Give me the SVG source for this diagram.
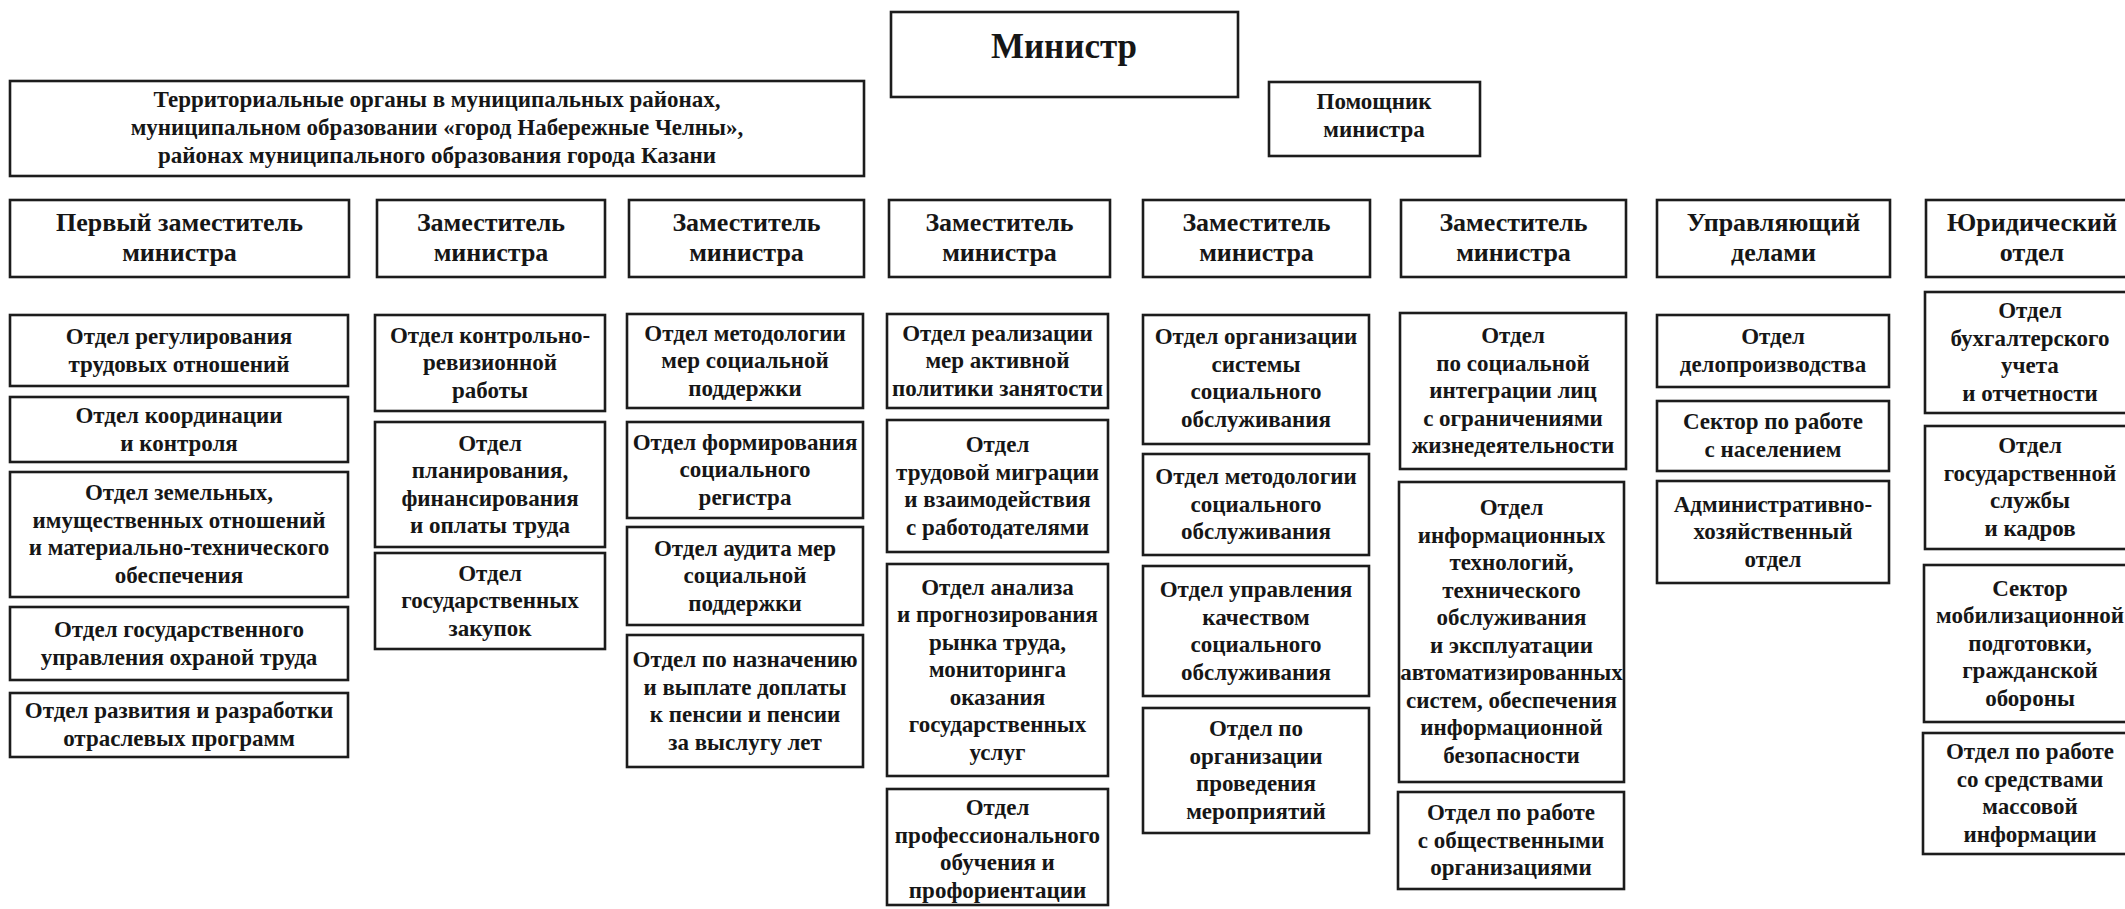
<svg xmlns="http://www.w3.org/2000/svg" width="2125" height="909" viewBox="0 0 2125 909">
<style>
.box{fill:#fff;stroke:#1c1c1c;stroke-width:2.6}
.t{font-family:"Liberation Serif","DejaVu Serif",serif;font-weight:bold;font-size:23px;text-anchor:middle;fill:#161616}
.h{font-size:26px}
.m{font-size:35px}
.r{font-size:23px}
</style>
<rect width="2125" height="909" fill="#fff"/>
<g id="connectors"/>

<g id="minister"><rect class="box" x="891" y="12" width="347" height="85"/><text class="t m" x="1064" y="58">Министр</text></g>
<g id="assistant"><rect class="box" x="1269" y="82" width="211" height="74"/><text class="t" x="1374" y="109"><tspan x="1374">Помощник</tspan><tspan x="1374" dy="28">министра</tspan></text></g>
<g id="territorial"><rect class="box" x="10" y="81" width="854" height="95"/><text class="t r" x="437" y="107"><tspan x="437">Территориальные органы в муниципальных районах,</tspan><tspan x="437" dy="28">муниципальном образовании «город Набережные Челны»,</tspan><tspan x="437" dy="28">районах муниципального образования города Казани</tspan></text></g>

<g id="dep1"><rect class="box" x="10" y="200" width="339" height="77"/><text class="t h" x="179.5" y="231"><tspan x="179.5">Первый заместитель</tspan><tspan x="179.5" dy="30">министра</tspan></text></g>
<g id="dep2"><rect class="box" x="377" y="200" width="228" height="77"/><text class="t h" x="491" y="231"><tspan x="491">Заместитель</tspan><tspan x="491" dy="30">министра</tspan></text></g>
<g id="dep3"><rect class="box" x="629" y="200" width="235" height="77"/><text class="t h" x="746.5" y="231"><tspan x="746.5">Заместитель</tspan><tspan x="746.5" dy="30">министра</tspan></text></g>
<g id="dep4"><rect class="box" x="889" y="200" width="221" height="77"/><text class="t h" x="999.5" y="231"><tspan x="999.5">Заместитель</tspan><tspan x="999.5" dy="30">министра</tspan></text></g>
<g id="dep5"><rect class="box" x="1143" y="200" width="227" height="77"/><text class="t h" x="1256.5" y="231"><tspan x="1256.5">Заместитель</tspan><tspan x="1256.5" dy="30">министра</tspan></text></g>
<g id="dep6"><rect class="box" x="1401" y="200" width="225" height="77"/><text class="t h" x="1513.5" y="231"><tspan x="1513.5">Заместитель</tspan><tspan x="1513.5" dy="30">министра</tspan></text></g>
<g id="manager"><rect class="box" x="1657" y="200" width="233" height="77"/><text class="t h" x="1773.5" y="231"><tspan x="1773.5">Управляющий</tspan><tspan x="1773.5" dy="30">делами</tspan></text></g>
<g id="legal"><rect class="box" x="1926" y="200" width="212" height="77"/><text class="t h" x="2032" y="231"><tspan x="2032">Юридический</tspan><tspan x="2032" dy="30">отдел</tspan></text></g>

<g id="c1-1"><rect class="box" x="10" y="315" width="338" height="71"/><text class="t" x="179" y="344"><tspan x="179">Отдел регулирования</tspan><tspan x="179" dy="27.5">трудовых отношений</tspan></text></g>
<g id="c1-2"><rect class="box" x="10" y="397" width="338" height="65"/><text class="t" x="179" y="423"><tspan x="179">Отдел координации</tspan><tspan x="179" dy="27.5">и контроля</tspan></text></g>
<g id="c1-3"><rect class="box" x="10" y="472" width="338" height="125"/><text class="t" x="179" y="500"><tspan x="179">Отдел земельных,</tspan><tspan x="179" dy="27.5">имущественных отношений</tspan><tspan x="179" dy="27.5">и материально-технического</tspan><tspan x="179" dy="27.5">обеспечения</tspan></text></g>
<g id="c1-4"><rect class="box" x="10" y="607" width="338" height="73"/><text class="t" x="179" y="637"><tspan x="179">Отдел государственного</tspan><tspan x="179" dy="27.5">управления охраной труда</tspan></text></g>
<g id="c1-5"><rect class="box" x="10" y="693" width="338" height="64"/><text class="t" x="179" y="718"><tspan x="179">Отдел развития и разработки</tspan><tspan x="179" dy="27.5">отраслевых программ</tspan></text></g>

<g id="c2-1"><rect class="box" x="375" y="315" width="230" height="96"/><text class="t" x="490" y="342.5"><tspan x="490">Отдел контрольно-</tspan><tspan x="490" dy="27.5">ревизионной</tspan><tspan x="490" dy="27.5">работы</tspan></text></g>
<g id="c2-2"><rect class="box" x="375" y="422" width="230" height="125"/><text class="t" x="490" y="450.5"><tspan x="490">Отдел</tspan><tspan x="490" dy="27.5">планирования,</tspan><tspan x="490" dy="27.5">финансирования</tspan><tspan x="490" dy="27.5">и оплаты труда</tspan></text></g>
<g id="c2-3"><rect class="box" x="375" y="553" width="230" height="96"/><text class="t" x="490" y="580.5"><tspan x="490">Отдел</tspan><tspan x="490" dy="27.5">государственных</tspan><tspan x="490" dy="27.5">закупок</tspan></text></g>

<g id="c3-1"><rect class="box" x="627" y="314" width="236" height="94"/><text class="t" x="745" y="340.5"><tspan x="745">Отдел методологии</tspan><tspan x="745" dy="27.5">мер социальной</tspan><tspan x="745" dy="27.5">поддержки</tspan></text></g>
<g id="c3-2"><rect class="box" x="627" y="422" width="236" height="96"/><text class="t" x="745" y="449.5"><tspan x="745">Отдел формирования</tspan><tspan x="745" dy="27.5">социального</tspan><tspan x="745" dy="27.5">регистра</tspan></text></g>
<g id="c3-3"><rect class="box" x="627" y="527" width="236" height="98"/><text class="t" x="745" y="555.5"><tspan x="745">Отдел аудита мер</tspan><tspan x="745" dy="27.5">социальной</tspan><tspan x="745" dy="27.5">поддержки</tspan></text></g>
<g id="c3-4"><rect class="box" x="627" y="635" width="236" height="132"/><text class="t" x="745" y="667"><tspan x="745">Отдел по назначению</tspan><tspan x="745" dy="27.5">и выплате доплаты</tspan><tspan x="745" dy="27.5">к пенсии и пенсии</tspan><tspan x="745" dy="27.5">за выслугу лет</tspan></text></g>

<g id="c4-1"><rect class="box" x="887" y="314" width="221" height="94"/><text class="t" x="997.5" y="340.5"><tspan x="997.5">Отдел реализации</tspan><tspan x="997.5" dy="27.5">мер активной</tspan><tspan x="997.5" dy="27.5">политики занятости</tspan></text></g>
<g id="c4-2"><rect class="box" x="887" y="420" width="221" height="132"/><text class="t" x="997.5" y="452"><tspan x="997.5">Отдел</tspan><tspan x="997.5" dy="27.5">трудовой миграции</tspan><tspan x="997.5" dy="27.5">и взаимодействия</tspan><tspan x="997.5" dy="27.5">с работодателями</tspan></text></g>
<g id="c4-3"><rect class="box" x="887" y="564" width="221" height="212"/><text class="t" x="997.5" y="594.5"><tspan x="997.5">Отдел анализа</tspan><tspan x="997.5" dy="27.5">и прогнозирования</tspan><tspan x="997.5" dy="27.5">рынка труда,</tspan><tspan x="997.5" dy="27.5">мониторинга</tspan><tspan x="997.5" dy="27.5">оказания</tspan><tspan x="997.5" dy="27.5">государственных</tspan><tspan x="997.5" dy="27.5">услуг</tspan></text></g>
<g id="c4-4"><rect class="box" x="887" y="789" width="221" height="116"/><text class="t" x="997.5" y="815"><tspan x="997.5">Отдел</tspan><tspan x="997.5" dy="27.5">профессионального</tspan><tspan x="997.5" dy="27.5">обучения и</tspan><tspan x="997.5" dy="27.5">профориентации</tspan></text></g>

<g id="c5-1"><rect class="box" x="1143" y="315" width="226" height="129"/><text class="t" x="1256" y="344"><tspan x="1256">Отдел организации</tspan><tspan x="1256" dy="27.5">системы</tspan><tspan x="1256" dy="27.5">социального</tspan><tspan x="1256" dy="27.5">обслуживания</tspan></text></g>
<g id="c5-2"><rect class="box" x="1143" y="454" width="226" height="101"/><text class="t" x="1256" y="484"><tspan x="1256">Отдел методологии</tspan><tspan x="1256" dy="27.5">социального</tspan><tspan x="1256" dy="27.5">обслуживания</tspan></text></g>
<g id="c5-3"><rect class="box" x="1143" y="566" width="226" height="130"/><text class="t" x="1256" y="597"><tspan x="1256">Отдел управления</tspan><tspan x="1256" dy="27.5">качеством</tspan><tspan x="1256" dy="27.5">социального</tspan><tspan x="1256" dy="27.5">обслуживания</tspan></text></g>
<g id="c5-4"><rect class="box" x="1143" y="708" width="226" height="125"/><text class="t" x="1256" y="736"><tspan x="1256">Отдел по</tspan><tspan x="1256" dy="27.5">организации</tspan><tspan x="1256" dy="27.5">проведения</tspan><tspan x="1256" dy="27.5">мероприятий</tspan></text></g>

<g id="c6-1"><rect class="box" x="1400" y="313" width="226" height="156"/><text class="t" x="1513" y="343"><tspan x="1513">Отдел</tspan><tspan x="1513" dy="27.5">по социальной</tspan><tspan x="1513" dy="27.5">интеграции лиц</tspan><tspan x="1513" dy="27.5">с ограничениями</tspan><tspan x="1513" dy="27.5">жизнедеятельности</tspan></text></g>
<g id="c6-2"><rect class="box" x="1399" y="482" width="225" height="300"/><text class="t" x="1511.5" y="515"><tspan x="1511.5">Отдел</tspan><tspan x="1511.5" dy="27.5">информационных</tspan><tspan x="1511.5" dy="27.5">технологий,</tspan><tspan x="1511.5" dy="27.5">технического</tspan><tspan x="1511.5" dy="27.5">обслуживания</tspan><tspan x="1511.5" dy="27.5">и эксплуатации</tspan><tspan x="1511.5" dy="27.5">автоматизированных</tspan><tspan x="1511.5" dy="27.5">систем, обеспечения</tspan><tspan x="1511.5" dy="27.5">информационной</tspan><tspan x="1511.5" dy="27.5">безопасности</tspan></text></g>
<g id="c6-3"><rect class="box" x="1398" y="792" width="226" height="97"/><text class="t" x="1511" y="820"><tspan x="1511">Отдел по работе</tspan><tspan x="1511" dy="27.5">с общественными</tspan><tspan x="1511" dy="27.5">организациями</tspan></text></g>

<g id="c7-1"><rect class="box" x="1657" y="315" width="232" height="72"/><text class="t" x="1773" y="344"><tspan x="1773">Отдел</tspan><tspan x="1773" dy="27.5">делопроизводства</tspan></text></g>
<g id="c7-2"><rect class="box" x="1657" y="401" width="232" height="70"/><text class="t" x="1773" y="429"><tspan x="1773">Сектор по работе</tspan><tspan x="1773" dy="27.5">с населением</tspan></text></g>
<g id="c7-3"><rect class="box" x="1657" y="481" width="232" height="102"/><text class="t" x="1773" y="511.5"><tspan x="1773">Административно-</tspan><tspan x="1773" dy="27.5">хозяйственный</tspan><tspan x="1773" dy="27.5">отдел</tspan></text></g>

<g id="c8-1"><rect class="box" x="1925" y="292" width="212" height="121"/><text class="t" x="2030" y="318"><tspan x="2030">Отдел</tspan><tspan x="2030" dy="27.5">бухгалтерского</tspan><tspan x="2030" dy="27.5">учета</tspan><tspan x="2030" dy="27.5">и отчетности</tspan></text></g>
<g id="c8-2"><rect class="box" x="1925" y="426" width="212" height="123"/><text class="t" x="2030" y="453"><tspan x="2030">Отдел</tspan><tspan x="2030" dy="27.5">государственной</tspan><tspan x="2030" dy="27.5">службы</tspan><tspan x="2030" dy="27.5">и кадров</tspan></text></g>
<g id="c8-3"><rect class="box" x="1924" y="565" width="213" height="157"/><text class="t" x="2030" y="595.5"><tspan x="2030">Сектор</tspan><tspan x="2030" dy="27.5">мобилизационной</tspan><tspan x="2030" dy="27.5">подготовки,</tspan><tspan x="2030" dy="27.5">гражданской</tspan><tspan x="2030" dy="27.5">обороны</tspan></text></g>
<g id="c8-4"><rect class="box" x="1923" y="733" width="214" height="121"/><text class="t" x="2030" y="759"><tspan x="2030">Отдел по работе</tspan><tspan x="2030" dy="27.5">со средствами</tspan><tspan x="2030" dy="27.5">массовой</tspan><tspan x="2030" dy="27.5">информации</tspan></text></g>
</svg>
